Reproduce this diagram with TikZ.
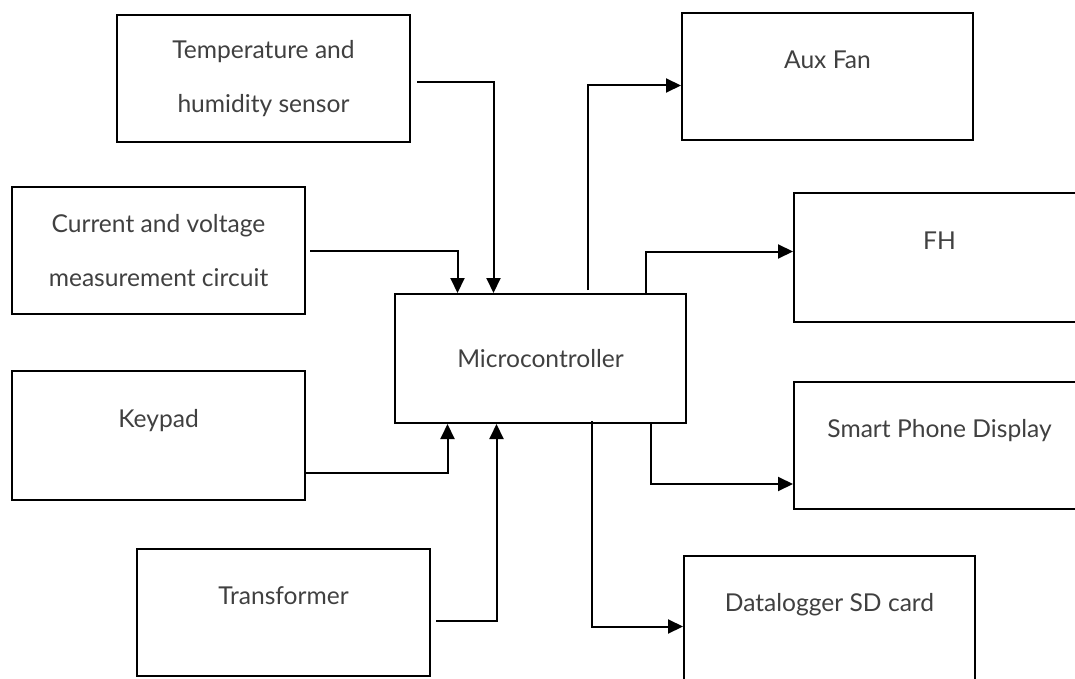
\documentclass[tikz,border=0pt]{standalone}
\usepackage{fontspec}
\setmainfont{Lato}
\usetikzlibrary{arrows.meta,calc}

\begin{document}
\begin{tikzpicture}[x=0.5pt,y=-0.5pt,
    >={Triangle[length=7.5pt,width=7pt]},
    every node/.style={draw=none},
    block/.style={draw, line width=1pt, minimum width=145.5pt, minimum height=63.5pt,
      inner sep=0pt, align=center, text=black!75, font=\fontsize{12.3pt}{27pt}\selectfont},
    raised/.style={text height=9pt, text depth=17pt},
    link/.style={line width=1pt}]
    \useasboundingbox (0,0) rectangle (1075,679);
    \clip (0,0) rectangle (1075,679);
    % inputs
    \node[block, minimum width=146.5pt] (temp) at (263.5,78.5) {Temperature and\\humidity sensor};
    \node[block, minimum width=146.5pt] (cv-meas) at (158.5,250.5) {Current and voltage\\measurement circuit};
    \node[block, raised, minimum width=146.5pt, minimum height=64.5pt] (keypad) at (158.5,435.5) {Keypad};
    \node[block, raised, minimum width=146.5pt] (transformer) at (283.5,612.5) {Transformer};
    \node[block, minimum height=64.5pt] (mcu) at (540.5,358.5) {Microcontroller};
    % outputs
    \node[block, raised] (aux-fan) at (827.5,76.5) {Aux Fan};
    \node[block, raised, minimum height=64.5pt] (fh) at (939.5,257.5) {FH};
    \node[block, raised] (phone) at (939.5,445) {Smart Phone Display};
    \node[block, raised] (logger) at (829.5,619.5) {Datalogger SD card};
    \draw[link,->] ($(temp.east)+(6,4)$) -| ($(mcu.north)+(-47,0)$);
    \draw[link,->] ($(cv-meas.east)+(4,0)$) -| ($(mcu.north)+(-83,0)$);
    \draw[link,->] ($(keypad.east)+(0,37)$) -| ($(mcu.south)+(-93,0)$);
    \draw[link,->] ($(transformer.east)+(5,8)$) -| ($(mcu.south)+(-44,0)$);
    \draw[link,->] ($(mcu.north)+(47,-3)$) |- ($(aux-fan.west)+(0,9)$);
    \draw[link,->] ($(mcu.north)+(105,0)$) |- ($(fh.west)+(0,-6)$);
    \draw[link,->] ($(mcu.south)+(110,0)$) |- ($(phone.west)+(0,39)$);
    \draw[link,->] ($(mcu.south)+(51,-3)$) |- ($(logger.west)+(0,7)$);
  \end{tikzpicture}
\end{document}
